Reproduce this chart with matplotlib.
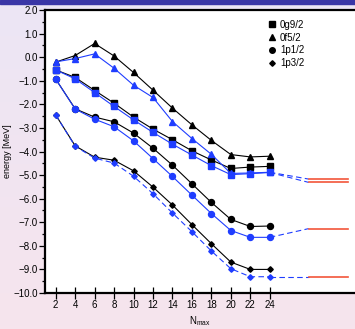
import numpy as np
import matplotlib
matplotlib.use("Agg")
import matplotlib.pyplot as plt
from matplotlib.lines import Line2D
from matplotlib.patches import Rectangle
from matplotlib.ticker import MultipleLocator

plt.rcParams['font.family'] = ['Liberation Sans', 'DejaVu Sans']
plt.rcParams['mathtext.default'] = 'regular'

nmax = [2, 4, 6, 8, 10, 12, 14, 16, 18, 20, 22, 24]

g92_black = [-0.54, -0.86, -1.41, -1.95, -2.54, -3.05, -3.50, -3.97, -4.36, -4.72, -4.66, -4.63]
g92_blue = [-0.54, -0.92, -1.50, -2.09, -2.66, -3.19, -3.69, -4.15, -4.60, -4.98, -4.94, -4.89]
f52_black = [-0.21, 0.07, 0.58, 0.05, -0.65, -1.40, -2.16, -2.87, -3.53, -4.13, -4.23, -4.20]
f52_blue = [-0.20, -0.06, 0.14, -0.47, -1.19, -1.71, -2.73, -3.45, -4.12, -4.93, -4.91, -4.88]
p12_black = [-0.93, -2.19, -2.54, -2.74, -3.22, -3.86, -4.58, -5.37, -6.16, -6.88, -7.18, -7.16]
p12_blue = [-0.93, -2.20, -2.63, -2.95, -3.55, -4.30, -5.06, -5.85, -6.63, -7.35, -7.64, -7.64]
p32_black = [-2.45, -3.76, -4.24, -4.37, -4.82, -5.51, -6.27, -7.10, -7.91, -8.69, -9.00, -9.00]
p32_blue = [-2.45, -3.78, -4.28, -4.49, -5.05, -5.79, -6.61, -7.40, -8.22, -8.97, -9.31, -9.31]

# exact values (red) and where the blue extrapolation lands
exact_x = [28, 32]
exact_f52 = -5.17
exact_g92 = -5.31
exact_p12 = -7.27
exact_p32 = -9.31

labels = ["0g9/2", "0f5/2", "1p1/2", "1p3/2"]

blue = "#1f3dff"
red = "#f2553a"

fig = plt.figure(figsize=(3.55, 3.29), dpi=100)

# background gradient + top bar
bg = fig.add_axes([0, 0, 1, 1], zorder=-10)
grad = np.linspace(0, 1, 100).reshape(-1, 1)
c_top = np.array([0.925, 0.90, 0.96])
c_bot = np.array([0.965, 0.895, 0.93])
img = c_top[None, None, :] * (1 - grad[:, :, None]) + c_bot[None, None, :] * grad[:, :, None]
bg.imshow(img, aspect='auto', extent=[0, 1, 0, 1])
bg.set_axis_off()
fig.patches.append(Rectangle((0, 1 - 4 / 329), 1, 4 / 329, transform=fig.transFigure,
                             color="#3a36a6", zorder=5))

ax = fig.add_axes([45 / 355, 1 - 293 / 329, 1 - 45 / 355, 283 / 329])

lw = 0.8
ax.plot(nmax, g92_black, color="black", lw=lw, marker="s", ms=5)
ax.plot(nmax, f52_black, color="black", lw=lw, marker="^", ms=4.3)
ax.plot(nmax, p12_black, color="black", lw=lw, marker="o", ms=4.3)
ax.plot(nmax, p32_black, color="black", lw=lw, marker="D", ms=2.8)

ax.plot(nmax, g92_blue, color=blue, lw=lw, marker="s", ms=5)
ax.plot(nmax, f52_blue, color=blue, lw=lw, marker="^", ms=4.3)
ax.plot(nmax, p12_blue, color=blue, lw=lw, marker="o", ms=4.3)
ax.plot(nmax, p32_blue, color=blue, lw=lw, marker="D", ms=2.8, dashes=(5, 3))

# extrapolation to the exact values
for start, end in [(f52_blue[-1], exact_f52), (g92_blue[-1], exact_g92),
                   (p12_blue[-1], exact_p12), (p32_blue[-1], exact_p32)]:
    ax.plot([nmax[-1], exact_x[0]], [start, end], color=blue, lw=lw, dashes=(5, 3))
    ax.plot(exact_x, [end, end], color=red, lw=1.2)

ax.set_xlim(0.9, 32.76)
ax.set_ylim(-10, 2)
ax.set_xticks(nmax)
ax.yaxis.set_major_locator(MultipleLocator(1))
ax.yaxis.set_minor_locator(MultipleLocator(0.5))
ax.set_yticklabels([f"{v:.1f}".replace("-", "\u2212") for v in ax.get_yticks()])
ax.set_ylim(-10, 2)

for s in ["left", "bottom", "top"]:
    ax.spines[s].set_linewidth(1.6)
ax.spines["right"].set_visible(False)
ax.tick_params(axis="y", direction="out", length=4, width=0.9, labelsize=7, pad=1)
ax.tick_params(axis="y", which="minor", direction="out", length=2.5, width=0.9)
ax.tick_params(axis="x", direction="inout", length=8, width=0.9, labelsize=7, pad=1)

ax.set_ylabel("energy [MeV]", fontsize=6.5)
ax.yaxis.set_label_coords(-0.105, 0.5)
ax.set_xlabel(r"N$_{max}$", fontsize=7)
ax.xaxis.set_label_coords(0.5, -0.075)

handles = [Line2D([], [], color="black", ls="none", marker=m, ms=ms)
           for m, ms in [("s", 4.5), ("^", 4), ("o", 4), ("D", 2.8)]]
ax.legend(handles, labels, loc="upper left", bbox_to_anchor=(0.695, 0.99), frameon=False,
          fontsize=7, handlelength=1.0, handletextpad=0.3, labelspacing=0.3, borderpad=0.2)

fig.savefig("out.png", dpi=100)
